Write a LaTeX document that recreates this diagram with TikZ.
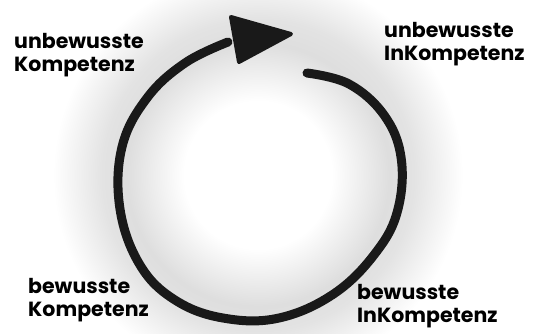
\documentclass[tikz,border=0pt]{standalone}
\usepackage{fontspec}
\setmainfont{Poppins}[UprightFont=* Bold, BoldFont=* ExtraBold]
\pgfdeclareradialshading{glow}{\pgfpoint{0bp}{0bp}}{color(0bp)=(white); color(9bp)=(white); color(16bp)=(black!13); color(19bp)=(black!11); color(25bp)=(white); color(50bp)=(white)}
\tikzset{
  lbl/.style={anchor=north west, inner sep=0pt, align=left, font=\fontsize{20.5}{23}\selectfont},
  loop/.style={line width=9pt, line cap=round, line join=round, black!90},
}
\begin{document}
\begin{tikzpicture}[x=1pt,y=-1pt]
\useasboundingbox (0,0) rectangle (547,333);
\begin{scope}
\clip (0,0) rectangle (547,333);
\shade[shading=glow] (258,175) circle[radius=205];
\end{scope}
\draw[loop] plot[smooth, tension=0.65] coordinates {(307,73) (349,84) (384,115) (401,157) (398,209) (377,251) (335,293) (279,318) (223,318) (175,300) (140,265) (120,209) (122,147) (147,98) (185,63) (228,42)};
\filldraw[black!90, line width=4pt, line join=round] (231,17) -- (291,34) -- (239,62) -- cycle;
\node[lbl] (uk) at (14,33) {unbewusste\\Kompetenz};
\node[lbl] (ui) at (384,22) {unbewusste\\InKompetenz};
\node[lbl] (bk) at (28,278) {bewusste\\Kompetenz};
\node[lbl] (bi) at (357,284) {bewusste\\InKompetenz};
\end{tikzpicture}
\end{document}
